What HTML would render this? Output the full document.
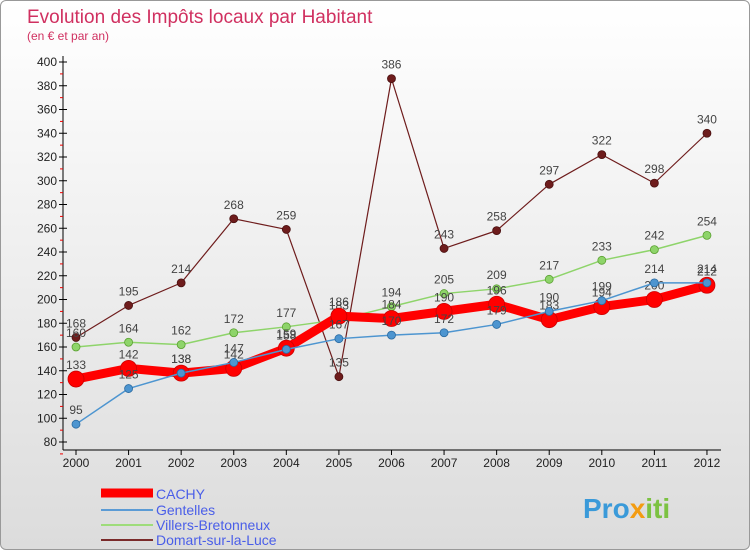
<!DOCTYPE html>
<html><head><meta charset="utf-8"><style>
body{margin:0;width:750px;height:550px;overflow:hidden;font-family:"Liberation Sans",sans-serif}
#wrap{position:absolute;left:0;top:0;width:748px;height:548px;border:1px solid #999;border-radius:6px;background:linear-gradient(#ffffff,#dcdcdc)}
</style></head><body>
<div id="wrap">
<svg width="750" height="550" id="svg">
<text x="26" y="22" font-size="19" fill="#d03060">Evolution des Impôts locaux par Habitant</text>
<text x="26" y="39" font-size="12" fill="#d03060">(en € et par an)</text>
<g id="axes"></g><g id="series"></g>
<g>
<line x1="100" y1="492" x2="152" y2="492" stroke="#f00" stroke-width="9"/>
<text x="155" y="498" font-size="14" fill="#4a5ee8">CACHY</text>
<line x1="100" y1="509" x2="152" y2="509" stroke="#5b9bd5" stroke-width="2"/>
<text x="155" y="514" font-size="14" fill="#4a5ee8">Gentelles</text>
<line x1="100" y1="524" x2="152" y2="524" stroke="#9edc7a" stroke-width="2"/>
<text x="155" y="529" font-size="14" fill="#4a5ee8">Villers-Bretonneux</text>
<line x1="100" y1="539" x2="152" y2="539" stroke="#7a2a2a" stroke-width="2"/>
<text x="155" y="544" font-size="14" fill="#4a5ee8">Domart-sur-la-Luce</text>
</g>
<text x="582" y="517" font-size="28" font-weight="bold" fill="#3a9ad9">Pro<tspan fill="#f39c12">x</tspan><tspan fill="#7cc242">iti</tspan></text>
</svg></div>
<script>
const years=[2000,2001,2002,2003,2004,2005,2006,2007,2008,2009,2010,2011,2012];
const yTicks=[80,100,120,140,160,180,200,220,240,260,280,300,320,340,360,380,400];
const cachy=[133,142,138,142,159,186,184,190,196,183,194,200,212];
const gentelles=[95,125,138,147,158,167,170,172,179,190,199,214,214];
const villers=[160,164,162,172,177,183,194,205,209,217,233,242,254];
const domart=[168,195,214,268,259,135,386,243,258,297,322,298,340];
const NS="http://www.w3.org/2000/svg";
function X(i){return 75+i*52.58;}
function Y(v){return 441-(v-80)*380/320;}
function mk(t,a,p){const e=document.createElementNS(NS,t);for(const k in a)e.setAttribute(k,a[k]);p.appendChild(e);return e;}
const ax=document.getElementById('axes');
const yl=mk('line',{x1:62,y1:55,x2:62,y2:449,stroke:'#000'},ax);


const xl=mk('line',{x1:62,y1:449,x2:720,y2:449,stroke:'#000'},ax);


yTicks.forEach(v=>{const y=Y(v);
mk('line',{x1:58,y1:y,x2:66,y2:y,stroke:'#000'},ax);
mk('line',{x1:59,y1:y+11.9,x2:62,y2:y+11.9,stroke:'#e00'},ax);
const t=mk('text',{x:56,y:y+4,'font-size':12,'text-anchor':'end',fill:'#222'},ax);t.textContent=v;

});
years.forEach((yr,i)=>{const x=X(i);
mk('line',{x1:x,y1:449,x2:x,y2:454,stroke:'#000'},ax);
const t=mk('text',{x:x,y:466,'font-size':12,'text-anchor':'middle',fill:'#222'},ax);t.textContent=yr;

});
const sg=document.getElementById('series');
function draw(vals,color,w,r,name,labelCol){
const g=mk('g',{},sg);


const pl=mk('polyline',{points:vals.map((v,i)=>X(i)+','+Y(v)).join(' '),fill:'none',stroke:color,'stroke-width':w,'stroke-linejoin':'round'},g);


vals.forEach((v,i)=>{const c=mk('circle',{cx:X(i),cy:Y(v),r:r,fill:color,stroke:labelCol,'stroke-width':0.8},g);


const t=mk('text',{x:X(i),y:Y(v)-10,'font-size':12,'text-anchor':'middle',fill:'#444'},g);t.textContent=v;

});}
draw(domart,'#6e1c1c',1.2,4,'domart','#4a1010');
draw(villers,'#8ed46a',1.5,4,'villers','#5aa030');
draw(cachy,'#ff0000',9,8,'cachy','#c00');
draw(gentelles,'#4d95d0',1.5,4,'gentelles','#2a6aa0');
</script>
</body></html>
